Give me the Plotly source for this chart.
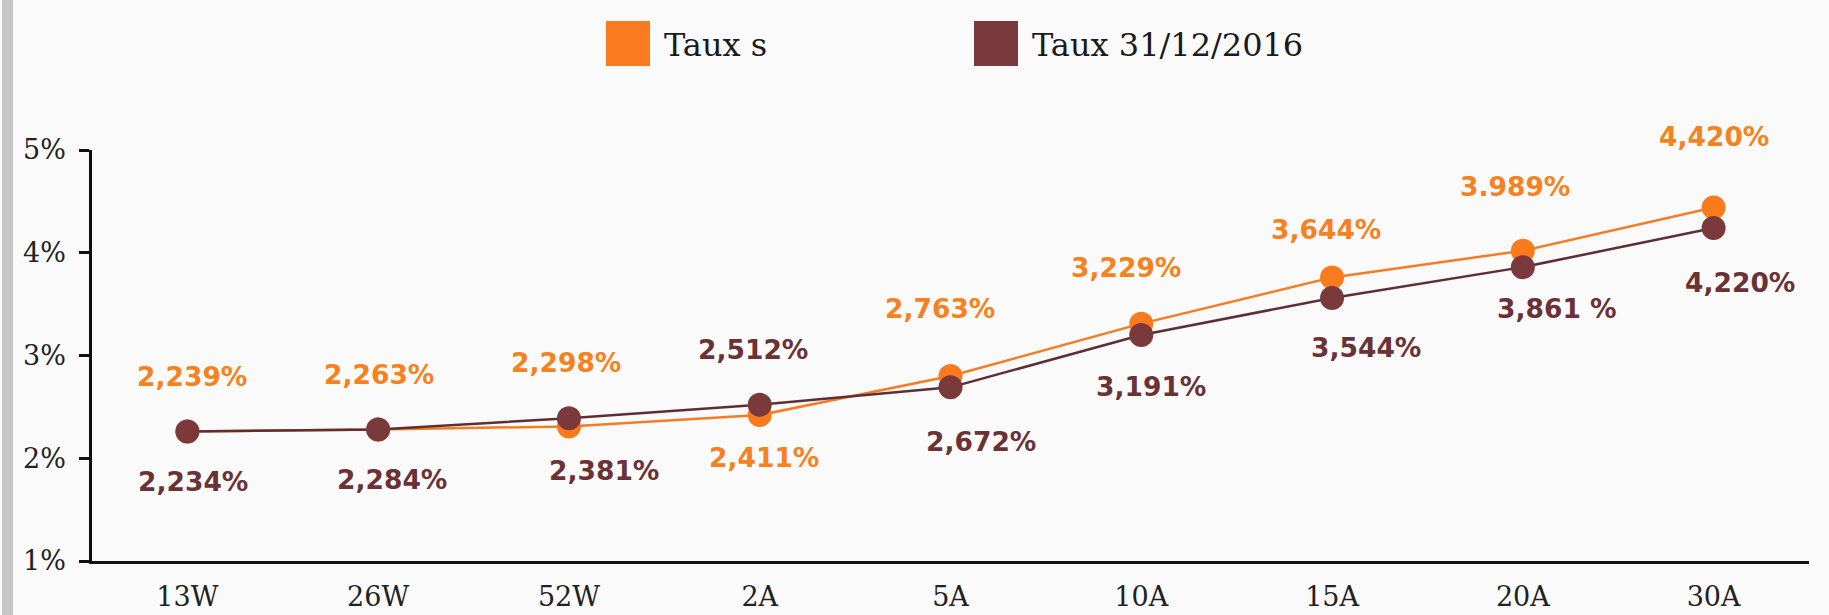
import plotly.graph_objects as go

# ---- data ----
categories = ["13W", "26W", "52W", "2A", "5A", "10A", "15A", "20A", "30A"]
taux_s = [2.26, 2.28, 2.31, 2.42, 2.80, 3.31, 3.76, 4.02, 4.44]
taux_2016 = [2.26, 2.28, 2.39, 2.52, 2.69, 3.20, 3.56, 3.86, 4.24]
labels_s = ["2,239%", "2,263%", "2,298%", "2,411%", "2,763%", "3,229%", "3,644%", "3.989%", "4,420%"]
labels_2016 = ["2,234%", "2,284%", "2,381%", "2,512%", "2,672%", "3,191%", "3,544%", "3,861 %", "4,220%"]
y_tickvals = [1, 2, 3, 4, 5]
y_ticktext = ["1%", "2%", "3%", "4%", "5%"]
series_names = ["Taux s", "Taux 31/12/2016"]

# ---- styles / label offsets (pixels) ----
ORANGE = "#F97B1D"
ORANGE_LINE = "#F57C22"
ORANGE_TXT = "#F5821F"
BROWN = "#7A3A3C"
BROWN_LINE = "#5C2F35"
BROWN_TXT = "#6B3236"
dx_s = [5, 1, -3, 4, -11, -15, -6, -8, 0]
dy_s = [55, 55, 64, -42, 68, 56, 48, 64, 71]
dx_2016 = [6, 14, 35, -7, 30, 10, 34, 34, 26]
dy_2016 = [-50, -50, -52, 55, -54, -52, -50, -41, -54]

W, H = 1829, 615
L, R, T, B = 92, 20, 150, 54
PW, PH = W - L - R, H - T - B


def px(x):
    return (x - L) / PW


def py(y):
    return (H - B - y) / PH


fig = go.Figure()
fig.add_trace(go.Scatter(
    x=categories, y=taux_s, name=series_names[0], mode="lines+markers",
    line=dict(color=ORANGE_LINE, width=2.5),
    marker=dict(color=ORANGE, size=24), showlegend=False, cliponaxis=False))
fig.add_trace(go.Scatter(
    x=categories, y=taux_2016, name=series_names[1], mode="lines+markers",
    line=dict(color=BROWN_LINE, width=2.5),
    marker=dict(color=BROWN, size=24), showlegend=False, cliponaxis=False))

annotations = []
lab_font = "DejaVu Sans"
for c, v, t, dx, dy in zip(categories, taux_s, labels_s, dx_s, dy_s):
    annotations.append(dict(x=c, y=v, text=f"<b>{t}</b>", showarrow=False,
                            xshift=dx, yshift=dy, xanchor="center", yanchor="middle",
                            font=dict(family=lab_font, size=26.5, color=ORANGE_TXT)))
for c, v, t, dx, dy in zip(categories, taux_2016, labels_2016, dx_2016, dy_2016):
    annotations.append(dict(x=c, y=v, text=f"<b>{t}</b>", showarrow=False,
                            xshift=dx, yshift=dy, xanchor="center", yanchor="middle",
                            font=dict(family=lab_font, size=26.5, color=BROWN_TXT)))

# custom legend
leg = [(606, 650, 662, ORANGE, series_names[0]), (974, 1018, 1030, BROWN, series_names[1])]
shapes = []
for x0, x1, tx, col, name in leg:
    shapes.append(dict(type="rect", xref="paper", yref="paper",
                       x0=px(x0), x1=px(x1), y0=py(66), y1=py(21),
                       fillcolor=col, line=dict(width=0)))
    annotations.append(dict(xref="paper", yref="paper", x=px(tx), y=py(45),
                            text=name, showarrow=False, xanchor="left", yanchor="middle",
                            font=dict(family="DejaVu Serif", size=32, color="#1a1a1a")))

# grey stripe at left edge
shapes.append(dict(type="rect", xref="paper", yref="paper",
                   x0=px(2), x1=px(13), y0=py(H), y1=py(0),
                   fillcolor="#C6C6C6", line=dict(width=0), layer="below"))

fig.update_layout(
    width=W, height=H,
    margin=dict(l=L, r=R, t=T, b=B, pad=0, autoexpand=False),
    paper_bgcolor="#FAFAFA", plot_bgcolor="#FAFAFA",
    showlegend=False,
    annotations=annotations, shapes=shapes,
    xaxis=dict(type="category", range=[-0.5, len(categories) - 0.5],
               showgrid=False, zeroline=False, showline=True, automargin=False,
               linecolor="#111111", linewidth=2.5, ticks="",
               tickfont=dict(family="DejaVu Serif", size=27, color="#222222"),
               ticklabelstandoff=10),
    yaxis=dict(range=[1, 5], tickvals=y_tickvals, ticktext=y_ticktext,
               showgrid=False, zeroline=False, showline=True, automargin=False,
               linecolor="#111111", linewidth=2.5,
               ticks="outside", ticklen=10, tickwidth=2.5, tickcolor="#111111",
               tickfont=dict(family="DejaVu Serif", size=27, color="#222222"),
               ticklabelstandoff=8),
    font=dict(family="DejaVu Serif"),
)

fig.write_html("out.html", config={"displayModeBar": False},
               post_script="document.body.style.margin='0px';document.body.style.overflow='hidden';")
